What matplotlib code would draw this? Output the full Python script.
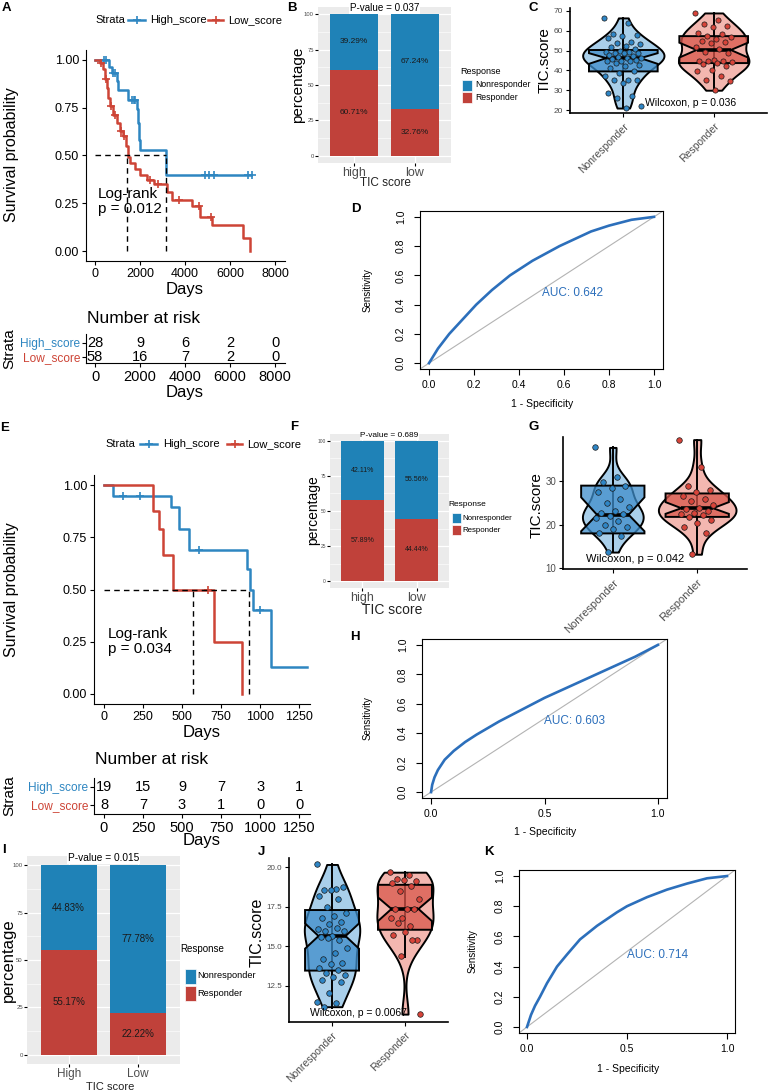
import numpy as np
import matplotlib.pyplot as plt
from matplotlib.lines import Line2D
from matplotlib.patches import Rectangle
from matplotlib.colors import to_rgba

plt.rcParams['font.family'] = ['Liberation Sans', 'DejaVu Sans']

W, H = 768, 1092
KM_BLUE = '#2e86c1'
KM_RED = '#cd4436'
BAR_BLUE = '#1f82b7'
BAR_RED = '#c0413a'
ROC_BLUE = '#2c6fbb'

# ---------------- data ----------------
# A: survival, cohort 1
a_hi_t = [0, 600, 750, 960, 1040, 1480, 1850, 1900, 1950, 2000, 3150, 6950]
a_hi_s = [1.00, 0.96, 0.93, 0.89, 0.84, 0.79, 0.74, 0.67, 0.58, 0.53, 0.40, 0.40]
a_hi_cens = [380, 480, 820, 900, 1640, 1720, 1790, 4900, 5050, 5300, 6800, 6980]
a_lo_t = [0, 200, 370, 440, 520, 590, 670, 810, 960, 1110, 1260, 1380, 1450, 1550,
          1780, 2000, 2300, 2600, 3180, 3400, 4290, 4660, 5180, 6580, 6880]
a_lo_s = [1.00, 0.98, 0.95, 0.90, 0.85, 0.80, 0.76, 0.71, 0.67, 0.63, 0.60, 0.55, 0.49, 0.46,
          0.43, 0.40, 0.37, 0.35, 0.31, 0.27, 0.235, 0.18, 0.14, 0.07, 0.0]
a_lo_cens = [250, 480, 700, 900, 1150, 1300, 2450, 2800, 3750, 4600, 5150]
a_median = [1420, 3150]
a_risk_t = [0, 2000, 4000, 6000, 8000]
a_risk_hi = [28, 9, 6, 2, 0]
a_risk_lo = [58, 16, 7, 2, 0]

# B: response by TIC score, cohort 1
b_cats = ['high', 'low']
b_resp = [60.71, 32.76]
b_non = [39.29, 67.24]

# C: TIC score by response, cohort 1
c_non = [66.5, 63.7, 58.2, 57.8, 57.3, 56.5, 54.5, 54.0, 53.3, 52.3, 52.0, 50.7, 50.0, 49.5,
         49.5, 49.0, 48.7, 48.7, 47.8, 47.3, 47.0, 46.5, 46.2, 45.8, 45.3, 44.8, 44.5, 44.5,
         43.5, 42.8, 42.0, 41.0, 39.5, 38.5, 37.0, 35.3, 35.3, 35.3, 33.7, 28.7, 27.0, 26.2,
         22.0, 21.0]
c_res = [69.0, 65.3, 63.3, 62.3, 62.0, 58.7, 58.2, 57.3, 57.0, 55.7, 55.0, 54.5, 53.7, 52.0,
         50.7, 49.5, 48.7, 45.3, 45.0, 44.5, 44.5, 44.0, 43.7, 43.3, 42.0, 40.3, 39.5, 37.0,
         35.3, 34.5, 30.0]
c_box_non = dict(q1=39.5, med=46.2, q3=50.3, whislo=21.0, whishi=66.5, cilo=43.3, cihi=48.7)
c_box_res = dict(q1=43.7, med=50.3, q3=57.3, whislo=30.0, whishi=69.0, cilo=46.5, cihi=54.0)

# D: ROC cohort 1
d_fpr = [0, 0.04, 0.09, 0.15, 0.21, 0.28, 0.36, 0.46, 0.58, 0.72, 0.80, 0.90, 1.0]
d_tpr = [0, 0.10, 0.20, 0.30, 0.40, 0.50, 0.60, 0.70, 0.80, 0.90, 0.94, 0.98, 1.0]

# E: survival, cohort 2
e_hi_t = [0, 60, 430, 480, 547, 918, 935, 955, 1068, 1300]
e_hi_s = [1.0, 0.947, 0.895, 0.79, 0.69, 0.60, 0.50, 0.40, 0.13, 0.13]
e_hi_cens = [120, 230, 611, 1000]
e_lo_t = [0, 314, 350, 377, 441, 706, 886]
e_lo_s = [1.0, 0.875, 0.79, 0.667, 0.50, 0.25, 0.0]
e_lo_cens = [664]
e_median = [572, 930]
e_risk_t = [0, 250, 500, 750, 1000, 1250]
e_risk_hi = [19, 15, 9, 7, 3, 1]
e_risk_lo = [8, 7, 3, 1, 0, 0]

# F: response by TIC score, cohort 2
f_cats = ['high', 'low']
f_resp = [57.89, 44.44]
f_non = [42.11, 55.56]

# G: TIC score by response, cohort 2
g_non = [37.8, 30.9, 29.8, 29.0, 28.5, 27.5, 26.0, 25.0, 24.0, 23.2, 22.7, 22.4, 22.1, 21.5,
         20.8, 20.0, 19.5, 19.0, 18.0, 17.5, 13.7]
g_res = [39.6, 33.4, 29.0, 28.0, 27.5, 26.5, 26.0, 25.4, 24.6, 23.9, 23.6, 23.2, 22.8, 22.4,
         22.2, 21.8, 21.0, 20.5, 19.5, 18.0, 13.2]
g_box_non = dict(q1=18.0, med=22.3, q3=29.0, whislo=13.7, whishi=37.8, cilo=18.5, cihi=26.3)
g_box_res = dict(q1=21.8, med=23.8, q3=27.2, whislo=13.2, whishi=39.6, cilo=22.5, cihi=25.2)

# H: ROC cohort 2
h_fpr = [0, 0.005, 0.015, 0.03, 0.06, 0.10, 0.15, 0.20, 0.30, 0.40, 0.50, 0.60, 0.70, 0.80, 0.90, 0.95, 1.0]
h_tpr = [0, 0.05, 0.10, 0.15, 0.22, 0.28, 0.34, 0.39, 0.48, 0.56, 0.64, 0.71, 0.78, 0.85, 0.92, 0.96, 1.0]

# I: response by TIC score, cohort 3
i_cats = ['High', 'Low']
i_resp = [55.17, 22.22]
i_non = [44.83, 77.78]

# J: TIC score by response, cohort 3
j_non = [20.19, 18.64, 18.55, 18.77, 18.6, 18.17, 18.0, 17.5, 17.11, 16.9, 16.8, 16.52, 16.43,
         16.1, 16.16, 16.0, 15.94, 15.67, 15.62, 15.41, 15.52, 14.89, 14.57, 14.18, 13.93,
         13.89, 13.61, 13.5, 13.33, 13.18, 13.08, 12.87, 12.76, 12.06, 11.48, 11.4, 11.17]
j_res = [19.7, 19.5, 19.24, 19.13, 19.19, 19.0, 18.85, 18.5, 18.0, 17.37, 17.37, 17.37, 16.8,
         16.8, 16.3, 16.48, 15.37, 15.88, 15.73, 15.41, 14.39, 10.7]
j_box_non = dict(q1=13.46, med=15.65, q3=17.3, whislo=11.1, whishi=20.2, cilo=14.85, cihi=16.45)
j_box_res = dict(q1=16.05, med=17.37, q3=18.9, whislo=14.35, whishi=19.7, cilo=16.6, cihi=18.1)

# K: ROC cohort 3
k_fpr = [0, 0.02, 0.04, 0.065, 0.10, 0.15, 0.20, 0.265, 0.35, 0.45, 0.50, 0.60, 0.70, 0.80, 0.90, 1.0]
k_tpr = [0, 0.08, 0.14, 0.20, 0.29, 0.40, 0.48, 0.58, 0.67, 0.76, 0.80, 0.86, 0.91, 0.95, 0.985, 1.0]

fig = plt.figure(figsize=(W / 100, H / 100), dpi=100)


def px_ax(x0, y0, x1, y1):
    return fig.add_axes([x0 / W, 1 - y1 / H, (x1 - x0) / W, (y1 - y0) / H])


def ftext(x, y, s, **kw):
    kw.setdefault('ha', 'center')
    kw.setdefault('va', 'center')
    return fig.text(x / W, 1 - y / H, s, **kw)


def step_at(t, s, tc):
    i = np.searchsorted(t, tc, side='right') - 1
    return np.asarray(s)[i]


def jitter(n, w):
    return w * ((np.arange(n) * 0.6180339) % 1 - 0.5)


def km_panel(box, hi, lo, medians, xlim, xticks, ptxt, ppos):
    ax = px_ax(*box)
    for (t, s, c), col in zip([hi, lo], [KM_BLUE, KM_RED]):
        ax.step(t, s, where='post', color=col, lw=1.8)
        ax.plot(c, step_at(t, s, c), '+', color=col, ms=6, mew=1.2)
    ax.plot([0, max(medians)], [0.5, 0.5], color='black', lw=1, dashes=(4, 3))
    for m in medians:
        ax.plot([m, m], [0, 0.5], color='black', lw=1, dashes=(4, 3))
    ax.text(ppos[0], ppos[1], ptxt, fontsize=11, va='center', linespacing=1.1)
    ax.set_xlim(xlim)
    ax.set_ylim(-0.05, 1.05)
    ax.set_xticks(xticks)
    ax.set_yticks([0, 0.25, 0.5, 0.75, 1.0])
    ax.set_yticklabels(['0.00', '0.25', '0.50', '0.75', '1.00'])
    for sp in ['top', 'right']:
        ax.spines[sp].set_visible(False)
    ax.tick_params(labelsize=9, length=3, pad=2)
    return ax


def risk_panel(box, xlim, xticks, hi_n, lo_n, rows):
    ax = px_ax(*box)
    ax.set_xlim(xlim)
    ax.set_ylim(0, 1)
    for x, a, b in zip(xticks, hi_n, lo_n):
        ax.text(x, rows[0], str(a), ha='center', va='center', fontsize=10.5)
        ax.text(x, rows[1], str(b), ha='center', va='center', fontsize=10.5)
    ax.set_xticks(xticks)
    ax.set_yticks(rows)
    ax.set_yticklabels(['High_score', 'Low_score'], fontsize=8.6)
    for lab, col in zip(ax.get_yticklabels(), [KM_BLUE, KM_RED]):
        lab.set_color(col)
    for sp in ['top', 'right']:
        ax.spines[sp].set_visible(False)
    ax.tick_params(axis='x', labelsize=10.5, length=3, pad=2)
    ax.tick_params(axis='y', length=3, pad=1)
    return ax


def strata_legend(x, y, xs):
    ftext(x, y, 'Strata', ha='left', fontsize=8)
    for (x0, x1, xt), col, lab in zip(xs, [KM_BLUE, KM_RED], ['High_score', 'Low_score']):
        fig.add_artist(Line2D([x0 / W, x1 / W], [1 - y / H] * 2, color=col, lw=1.8))
        fig.add_artist(Line2D([(x0 + x1) / 2 / W], [1 - y / H], marker='+', color=col,
                              ms=6, mew=1.2))
        ftext(xt, y, lab, ha='left', fontsize=8)


def bar_panel(box, cats, resp, non, ptitle, fs_pct, fs_cat, fs_tick):
    ax = px_ax(*box)
    ax.set_facecolor('#EBEBEB')
    x = np.arange(1, len(cats) + 1)
    ax.bar(x, resp, 0.8, color=BAR_RED, zorder=3)
    ax.bar(x, non, 0.8, bottom=resp, color=BAR_BLUE, zorder=3)
    for xi, r, n in zip(x, resp, non):
        ax.text(xi, r / 2, f'{r:.2f}%', ha='center', va='center', fontsize=fs_pct,
                color='#1a1a1a', zorder=4)
        ax.text(xi, r + n / 2, f'{n:.2f}%', ha='center', va='center', fontsize=fs_pct,
                color='#1a1a1a', zorder=4)
    ax.set_xlim(0.4, 2.6)
    ax.set_ylim(-5, 105)
    ax.set_yticks([0, 25, 50, 75, 100])
    ax.set_yticks([12.5, 37.5, 62.5, 87.5], minor=True)
    ax.set_xticks(x)
    ax.set_xticklabels(cats, fontsize=fs_cat, color='#4d4d4d')
    ax.grid(which='major', color='white', lw=0.9)
    ax.grid(which='minor', axis='y', color='white', lw=0.4)
    ax.set_axisbelow(True)
    for sp in ax.spines.values():
        sp.set_visible(False)
    ax.tick_params(axis='y', labelsize=fs_tick, labelcolor='#4d4d4d', length=2, pad=1)
    ax.tick_params(axis='y', which='minor', length=0)
    ax.tick_params(axis='x', length=2, pad=1)
    ax.text(1.5, 104, ptitle, ha='center', va='center', fontsize=fs_tick * 1.7,
            bbox=dict(fc='white', ec='none', pad=0.6), zorder=5, clip_on=False)
    return ax


def resp_legend(xt, yt, xb, bw, bh, rows, xl, fs):
    ftext(xt, yt, 'Response', ha='left', fontsize=fs)
    for y, col, lab in zip(rows, [BAR_BLUE, BAR_RED], ['Nonresponder', 'Responder']):
        fig.add_artist(Rectangle((xb / W, 1 - (y + bh / 2) / H), bw / W, bh / H,
                                 transform=fig.transFigure, fc=col, ec='white', lw=0.5))
        ftext(xl, y, lab, ha='left', fontsize=fs * 0.95)


def violin_panel(box, groups, stats, vwidths, bwidth, ylim, yticks, ylabs, ptxt, ppos,
                 fs_tick, fs_cat, psize):
    ax = px_ax(*box)
    light = ['#a9cfea', '#f3b7b0']
    mid = ['#3e8dca', '#d9574b']
    dot = ['#2f86c6', '#d8443a']
    for i, vals in enumerate(groups):
        pos = i + 1
        vp = ax.violinplot([vals], positions=[pos], widths=vwidths[i], showextrema=False,
                           bw_method=0.45)
        for b in vp['bodies']:
            b.set_facecolor(light[i])
            b.set_edgecolor('black')
            b.set_linewidth(1.4)
            b.set_alpha(1)
            b.set_zorder(1)
        ax.plot([pos, pos], [stats[i]['whislo'], stats[i]['whishi']], color='black', lw=1.4,
                zorder=2)
    bp = ax.bxp([dict(s, fliers=[]) for s in stats], positions=[1, 2], widths=bwidth,
                shownotches=True, patch_artist=True, showcaps=False, showfliers=False,
                whiskerprops=dict(linestyle='none'), medianprops=dict(color='black', lw=2.6),
                boxprops=dict(lw=1.4), manage_ticks=False, zorder=3)
    for patch, c in zip(bp['boxes'], mid):
        patch.set_facecolor(to_rgba(c, 0.75))
        patch.set_edgecolor('black')
    for i, vals in enumerate(groups):
        ax.scatter(i + 1 + jitter(len(vals), 0.42), vals, s=psize, color=dot[i],
                   edgecolors='#1a1a1a', linewidths=0.5, zorder=4)
    ax.text(ppos[0], ppos[1], ptxt, ha='center', va='center', fontsize=fs_cat, zorder=5)
    ax.set_xlim(0.41, 2.59)
    ax.set_ylim(ylim)
    ax.set_yticks(yticks)
    ax.set_yticklabels(ylabs)
    ax.set_xticks([1, 2])
    ax.set_xticklabels(['Nonresponder', 'Responder'], rotation=45, ha='right',
                       rotation_mode='anchor', fontsize=fs_cat, color='#4d4d4d')
    for sp in ['top', 'right']:
        ax.spines[sp].set_visible(False)
    for sp in ['left', 'bottom']:
        ax.spines[sp].set_linewidth(1.2)
    ax.tick_params(axis='y', labelsize=fs_tick, labelcolor='#4d4d4d', length=3, pad=2)
    ax.tick_params(axis='x', length=3, pad=3)
    return ax


def roc_panel(box, fpr, tpr, auc, xticks, xlabs, fs):
    ax = px_ax(*box)
    ax.axline((0, 0), (1, 1), color='#b3b3b3', lw=0.8)
    ax.plot(fpr, tpr, color=ROC_BLUE, lw=1.9)
    ax.set_xlim(-0.04, 1.04)
    ax.set_ylim(-0.04, 1.04)
    ax.set_xticks(xticks)
    ax.set_xticklabels(xlabs)
    ax.set_yticks([0, 0.2, 0.4, 0.6, 0.8, 1.0])
    ax.set_yticklabels(['0.0', '0.2', '0.4', '0.6', '0.8', '1.0'], rotation=90, va='center')
    ax.tick_params(direction='out', length=4, labelsize=fs, pad=4)
    ax.tick_params(axis='y', pad=6)
    ax.text(0.5, 0.48, auc, color=ROC_BLUE, fontsize=fs + 1, va='center')
    return ax


# ---------------- A ----------------
km_panel((86, 50, 285, 261), (a_hi_t, a_hi_s, a_hi_cens), (a_lo_t, a_lo_s, a_lo_cens),
         a_median, (-400, 8440), a_risk_t, 'Log-rank\np = 0.012', (130, 0.26))
strata_legend(95, 20, [(128, 145, 150), (208, 223, 228)])
ftext(12, 155, 'Survival probability', rotation=90, fontsize=11.5)
ftext(185, 290, 'Days', fontsize=12)
risk_panel((86, 334, 285, 363), (-400, 8440), a_risk_t, a_risk_hi, a_risk_lo, [0.69, 0.21])
ftext(87, 318, 'Number at risk', ha='left', fontsize=12.5)
ftext(9, 349, 'Strata', rotation=90, fontsize=11)
ftext(185, 392, 'Days', fontsize=12)

# ---------------- B ----------------
bar_panel((318, 7, 451, 163), b_cats, b_resp, b_non, 'P-value = 0.037', 6, 9, 4.2)
ftext(298, 85, 'percentage', rotation=90, fontsize=11)
ftext(385, 183, 'TIC score', fontsize=8.5, color='#222222')
resp_legend(460, 71, 462, 10, 11, [85, 97], 475, 6.5)

# ---------------- C ----------------
violin_panel((570, 8, 767, 113), [c_non, c_res], [c_box_non, c_box_res], [0.9, 0.78], 0.76,
             (18.5, 71.5), [20, 30, 40, 50, 60, 70], ['20', '30', '40', '50', '60', '70'],
             'Wilcoxon, p = 0.036', (1.74, 23.5), 6, 7.5, 14)
ftext(545, 60, 'TIC.score', rotation=90, fontsize=11)

# ---------------- D ----------------
roc_panel((420, 211, 663, 369), d_fpr, d_tpr, 'AUC: 0.642', [0, 0.2, 0.4, 0.6, 0.8, 1.0],
          ['0.0', '0.2', '0.4', '0.6', '0.8', '1.0'], 7.5)
ftext(368, 290, 'Sensitivity', rotation=90, fontsize=7)
ftext(542, 404, '1 - Specificity', fontsize=7.5)

# ---------------- E ----------------
km_panel((94, 475, 310, 704), (e_hi_t, e_hi_s, e_hi_cens), (e_lo_t, e_lo_s, e_lo_cens),
         e_median, (-64, 1320), e_risk_t, 'Log-rank\np = 0.034', (26, 0.25))
strata_legend(105, 444, [(140, 157, 163), (227, 242, 247)])
ftext(12, 590, 'Survival probability', rotation=90, fontsize=11.5)
ftext(202, 732, 'Days', fontsize=12)
risk_panel((94, 778, 310, 814), (-64, 1320), e_risk_t, e_risk_hi, e_risk_lo, [0.75, 0.25])
ftext(95, 760, 'Number at risk', ha='left', fontsize=12.5)
ftext(9, 796, 'Strata', rotation=90, fontsize=11)
ftext(202, 840, 'Days', fontsize=12)

# ---------------- F ----------------
bar_panel((330, 434, 449, 588), f_cats, f_resp, f_non, 'P-value = 0.689', 5, 9, 3.5)
ftext(313, 510, 'percentage', rotation=90, fontsize=10)
ftext(392, 610, 'TIC score', fontsize=10, color='#222222')
resp_legend(448, 505, 452, 9, 10, [518, 530], 462, 6)

# ---------------- G ----------------
violin_panel((563, 437, 747, 569), [g_non, g_res], [g_box_non, g_box_res], [0.72, 0.92], 0.75,
             (9.8, 40.2), [10, 20, 30], ['10', '20', '30'],
             'Wilcoxon, p = 0.042', (1.27, 12), 7, 8, 16)
ftext(537, 505, 'TIC.score', rotation=90, fontsize=11)

# ---------------- H ----------------
roc_panel((422, 639, 667, 798), h_fpr, h_tpr, 'AUC: 0.603', [0, 0.5, 1.0],
          ['0.0', '0.5', '1.0'], 7.5)
ftext(368, 718, 'Sensitivity', rotation=90, fontsize=7)
ftext(545, 832, '1 - Specificity', fontsize=7.5)

# ---------------- I ----------------
bar_panel((27, 856, 180, 1064), i_cats, i_resp, i_non, 'P-value = 0.015', 7, 8.5, 4.3)
ftext(8, 960, 'percentage', rotation=90, fontsize=12)
ftext(110, 1087, 'TIC score', fontsize=8, color='#222222')
resp_legend(180, 949, 185, 11, 15, [976, 993], 197, 7)

# ---------------- J ----------------
violin_panel((289, 858, 448, 1022), [j_non, j_res], [j_box_non, j_box_res], [0.76, 0.77], 0.74,
             (10.2, 20.6), [12.5, 15.0, 17.5, 20.0], ['12.5', '15.0', '17.5', '20.0'],
             'Wilcoxon, p = 0.0067', (1.36, 10.8), 5.8, 7.5, 16)
ftext(257, 932, 'TIC.score', rotation=90, fontsize=11.5)

# ---------------- K ----------------
roc_panel((519, 870, 735, 1033), k_fpr, k_tpr, 'AUC: 0.714', [0, 0.5, 1.0],
          ['0.0', '0.5', '1.0'], 7.5)
ftext(473, 951, 'Sensitivity', rotation=90, fontsize=7)
ftext(628, 1069, '1 - Specificity', fontsize=7.5)

# panel letters
for lab, x, y in [('A', 6, 8), ('B', 292, 8), ('C', 533, 8), ('D', 356, 209), ('E', 5, 428),
                  ('F', 294, 427), ('G', 534, 427), ('H', 355, 637), ('I', 4, 850),
                  ('J', 261, 852), ('K', 489, 852)]:
    ftext(x, y, lab, fontsize=9.5, fontweight='bold')

fig.savefig('out.png', dpi=100)
